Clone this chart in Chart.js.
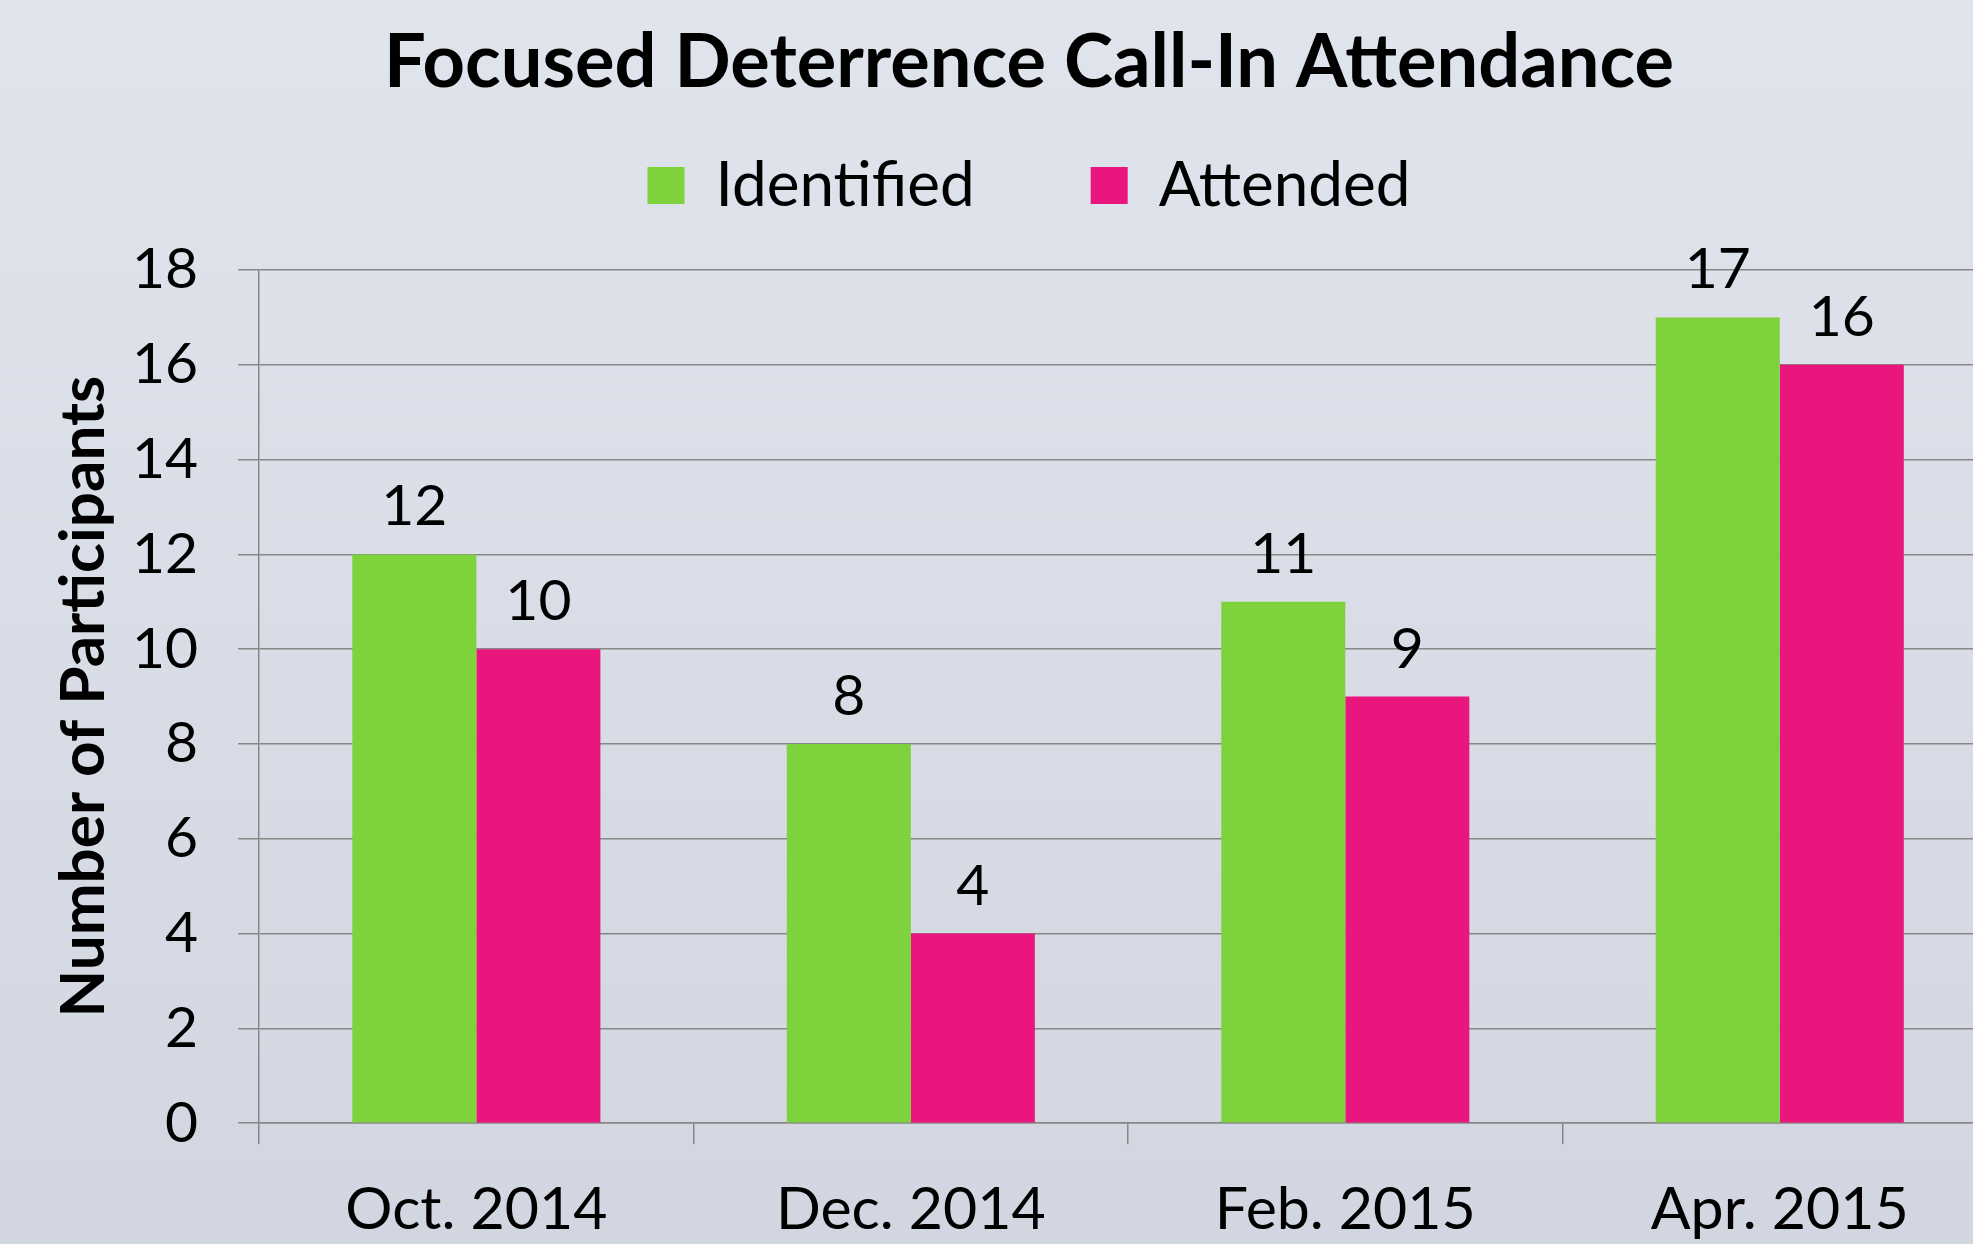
<!DOCTYPE html>
<html>
<head>
<meta charset="utf-8">
<script src="https://cdn.jsdelivr.net/npm/chart.js@4.4.0/dist/chart.umd.min.js"></script>
<style>
  html, body { margin: 0; padding: 0; overflow: hidden; width: 1973px; height: 1244px; }
  body { background: linear-gradient(to bottom, #e0e4ed 0%, #d2d6e0 100%); }
  #wrap { position: absolute; left: 0; top: 0; width: 2010px; height: 1244px; }
</style>
</head>
<body>
<div id="wrap"><canvas id="attendance" width="2010" height="1244"></canvas></div>
<script>
var categories = ['Oct. 2014', 'Dec. 2014', 'Feb. 2015', 'Apr. 2015'];
var identified = [12, 8, 11, 17];
var attended = [10, 4, 9, 16];
var yMax = 18;
var yStep = 2;

var gridColor = '#878787';

// value labels above each bar
var barValues = {
    id: 'barValues',
    afterDatasetsDraw: function(chart) {
        var ctx = chart.ctx;
        ctx.save();
        ctx.font = '57px Lato';
        ctx.fillStyle = '#000';
        ctx.textAlign = 'center';
        ctx.textBaseline = 'alphabetic';
        chart.data.datasets.forEach(function(ds, i) {
            chart.getDatasetMeta(i).data.forEach(function(bar, j) {
                ctx.fillText(ds.data[j], bar.x, bar.y - 29);
            });
        });
        ctx.restore();
    }
};

var Attendance = document.getElementById('attendance').getContext('2d');
var myChart = new Chart(Attendance, {
    type: 'bar',
    data: {
        labels: categories,
        datasets: [{
            label: 'Identified',
            data: identified,
            backgroundColor: '#7ed23c',
            borderWidth: 0,
            categoryPercentage: 0.571,
            barPercentage: 1
        }, {
            label: 'Attended',
            data: attended,
            backgroundColor: '#e9177d',
            borderWidth: 0,
            categoryPercentage: 0.571,
            barPercentage: 1
        }]
    },
    options: {
        responsive: false,
        devicePixelRatio: 1,
        animation: false,
        layout: { padding: { left: 61, right: 13, top: 0, bottom: -31 } },
        plugins: {
            title: {
                display: true,
                text: 'Focused Deterrence Call-In Attendance',
                color: '#000',
                font: { family: 'Lato', size: 74, weight: 'bold', lineHeight: 1.2 },
                padding: { top: 19.1, bottom: -69.4 }
            },
            legend: {
                display: true,
                position: 'top',
                labels: {
                    color: '#000',
                    font: { family: 'Lato', size: 62 },
                    boxWidth: 37,
                    boxHeight: 37,
                    padding: 116
                }
            },
            // empty spacer between legend and plot
            subtitle: {
                display: true,
                text: '',
                weight: 500,
                font: { size: 10, lineHeight: 1 },
                padding: { top: 0, bottom: 33.5 }
            },
            tooltip: { enabled: false }
        },
        scales: {
            x: {
                grid: {
                    display: true,
                    drawOnChartArea: false,
                    drawTicks: true,
                    tickLength: 21,
                    color: gridColor,
                    lineWidth: 1.5,
                    offset: true
                },
                border: { display: true, color: gridColor, width: 1.5 },
                ticks: {
                    color: '#000',
                    font: { family: 'Lato', size: 59 },
                    padding: 30,
                    maxRotation: 0
                }
            },
            y: {
                min: 0,
                max: yMax,
                ticks: {
                    stepSize: yStep,
                    color: '#000',
                    font: { family: 'Lato', size: 57 },
                    padding: 40
                },
                grid: {
                    color: gridColor,
                    lineWidth: 1.5,
                    drawTicks: true,
                    tickLength: 21
                },
                border: { display: true, color: gridColor, width: 1.5 },
                title: {
                    display: true,
                    text: 'Number of Participants',
                    color: '#000',
                    font: { family: 'Lato', size: 62, weight: 'bold', lineHeight: 1.2 },
                    padding: { top: -14.2, bottom: -29.2 }
                }
            }
        }
    },
    plugins: [barValues]
});
</script>
</body>
</html>
